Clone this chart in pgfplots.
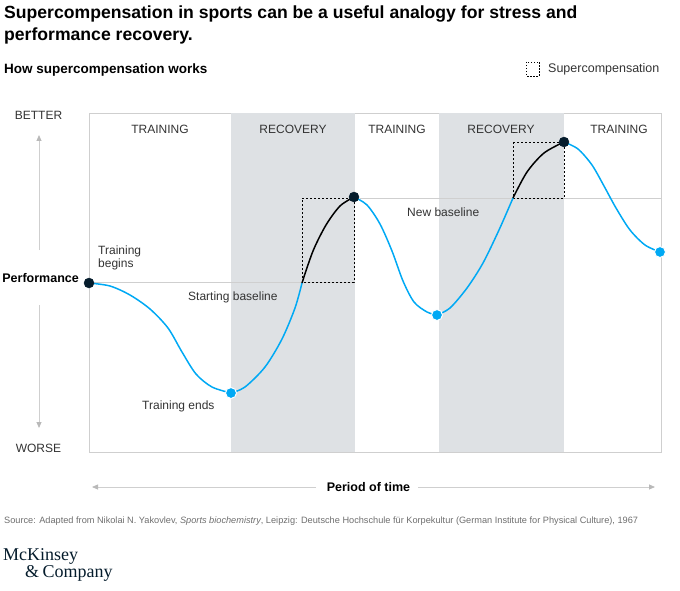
\documentclass[border=0pt]{standalone}
\usepackage{pgfplots}
\pgfplotsset{compat=1.18}
\usepackage{fontspec}
\setmainfont{Liberation Sans}
\newfontfamily\logofont{Liberation Serif}
\usetikzlibrary{arrows.meta}
\definecolor{mckblue}{HTML}{00A9F4}
\definecolor{mckdark}{HTML}{051C2C}
\definecolor{shade}{HTML}{DEE1E4}
\definecolor{framegray}{HTML}{CFCFCF}
\definecolor{txt}{HTML}{333333}
\definecolor{srcgray}{HTML}{6E6E6E}
\begin{document}
\begin{tikzpicture}
\begin{axis}[at={(89pt,-452pt)}, anchor=south west, scale only axis,
  width=572pt, height=339pt, xmin=89, xmax=661, ymin=113, ymax=452,
  y dir=reverse, axis line style={framegray, line width=0.8pt},
  ticks=none, clip=false]
% recovery shading
\addplot[fill=shade, draw=none] coordinates {(231,113) (355,113) (355,452) (231,452)} -- cycle;
\addplot[fill=shade, draw=none] coordinates {(439,113) (564,113) (564,452) (439,452)} -- cycle;
% baselines
\addplot[framegray, line width=0.9pt] coordinates {(89,282) (354,282)};
\addplot[framegray, line width=0.9pt] coordinates {(360,198) (661,198)};
% supercompensation boxes
\addplot[black, line width=0.8pt, dash pattern=on 2pt off 2pt] coordinates {(302,198) (354,198) (354,282) (302,282) (302,198)};
\addplot[black, line width=0.8pt, dash pattern=on 2pt off 2pt] coordinates {(513,142) (564,142) (564,198) (513,198) (513,142)};
% curve
\addplot[mckblue, line width=1.5pt, smooth] coordinates {(89,283) (110,286) (130,295) (150,309) (168,328) (182,352) (196,374) (212,387) (231,393)};
\addplot[mckblue, line width=1.5pt, smooth] coordinates {(231,393) (245,387) (265,367) (282,339) (295,308) (302,283)};
\addplot[black, line width=1.5pt, smooth] coordinates {(302,283) (313,251) (326,225) (340,206) (354,197)};
\addplot[mckblue, line width=1.5pt, smooth] coordinates {(354,197) (367,205) (380,224) (392,251) (403,281) (414,302) (427,312) (437,315)};
\addplot[mckblue, line width=1.5pt, smooth] coordinates {(437,315) (450,308) (467,288) (483,263) (499,230) (513,198)};
\addplot[black, line width=1.5pt, smooth] coordinates {(513,198) (527,172) (544,153) (564,142)};
\addplot[mckblue, line width=1.5pt, smooth] coordinates {(564,142) (578,149) (592,165) (604,186) (616,208) (630,230) (645,245) (660,252)};
% dots
\addplot[only marks, mark=*, mark size=5pt, mark options={fill=mckdark, draw=mckdark}] coordinates {(89,283) (354,197) (564,142)};
\addplot[only marks, mark=*, mark size=5.5pt, mark options={fill=mckblue, draw=white, line width=1pt}] coordinates {(231,393) (437,315) (660,252)};
\end{axis}
\begin{scope}[x=1pt, y=-1pt, every node/.style={inner sep=0pt, text=txt}]
\useasboundingbox (0,0) rectangle (680,591);
% titles
\node[anchor=base west, text=black, font=\fontsize{17.6}{20}\selectfont\bfseries] at (4,19) {Supercompensation in sports can be a useful analogy for stress and};
\node[anchor=base west, text=black, font=\fontsize{17.6}{20}\selectfont\bfseries] at (4,41) {performance recovery.};
\node[anchor=base west, text=black, font=\fontsize{13.5}{15}\selectfont\bfseries] at (4,74) {How supercompensation works};
% legend
\draw[black, line width=0.7pt, dash pattern=on 1.5pt off 1.5pt] (526,62) rectangle (539,76);
\node[anchor=base west, font=\fontsize{12.5}{14}\selectfont] at (548,73) {Supercompensation};
% column labels
\foreach \xx/\lab in {160/TRAINING, 293/RECOVERY, 397/TRAINING, 501/RECOVERY, 619/TRAINING}
  \node[anchor=base, font=\fontsize{12}{14}\selectfont] at (\xx,134) {\lab};
% y axis
\node[anchor=base, font=\fontsize{12}{14}\selectfont] at (38.5,120) {BETTER};
\node[anchor=base, font=\fontsize{12}{14}\selectfont] at (38.5,452) {WORSE};
\node[anchor=base east, text=black, font=\fontsize{12.5}{15}\selectfont\bfseries] at (79,282) {Performance};
\draw[framegray, line width=0.8pt, -{Triangle[length=6pt,width=5pt,fill=gray!55,color=gray!55]}] (39,250) -- (39,135);
\draw[framegray, line width=0.8pt, -{Triangle[length=6pt,width=5pt,fill=gray!55,color=gray!55]}] (39,305) -- (39,428);
% x axis
\draw[framegray, line width=0.8pt, -{Triangle[length=6pt,width=5pt,fill=gray!55,color=gray!55]}] (316,487) -- (92,487);
\draw[framegray, line width=0.8pt, -{Triangle[length=6pt,width=5pt,fill=gray!55,color=gray!55]}] (418,487) -- (655,487);
\node[anchor=center, text=black, font=\fontsize{12.5}{15}\selectfont\bfseries] at (368.5,487) {Period of time};
% annotations
\node[anchor=base west, font=\fontsize{12}{14}\selectfont] at (98,254) {Training};
\node[anchor=base west, font=\fontsize{12}{14}\selectfont] at (98,267) {begins};
\node[anchor=base west, font=\fontsize{12}{14}\selectfont] at (188,300) {Starting baseline};
\node[anchor=base west, font=\fontsize{12}{14}\selectfont] at (142,409) {Training ends};
\node[anchor=base west, font=\fontsize{12}{14}\selectfont] at (407,216) {New baseline};
% source
\node[anchor=base west, text=srcgray, font=\fontsize{9.2}{10}\selectfont] at (4,523) {Source: Adapted from Nikolai N. Yakovlev, \textit{Sports biochemistry}, Leipzig: Deutsche Hochschule für Korpekultur (German Institute for Physical Culture), 1967};
% logo
\node[anchor=base west, text=mckdark, font=\logofont\fontsize{18}{20}\selectfont] at (3,560) {McKinsey};
\node[anchor=base west, text=mckdark, font=\logofont\fontsize{18}{20}\selectfont] at (25,577) {\&\hspace{-1pt} Company};
\end{scope}
\end{tikzpicture}
\end{document}
